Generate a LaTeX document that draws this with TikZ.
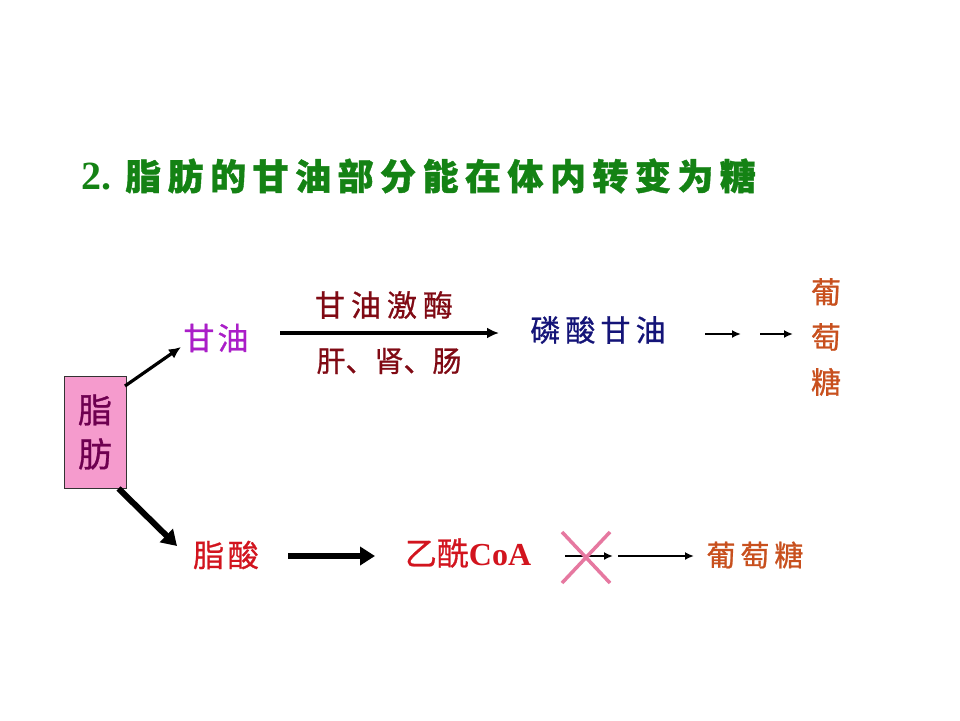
\documentclass[tikz,border=0pt]{standalone}
\usepackage{fontspec}
\setmainfont{Liberation Serif}
\newfontfamily\cjk{Noto Sans CJK SC}[FakeBold=0.8]
\newfontfamily\cjkb{Noto Sans CJK SC}[FakeBold=1.1]
\usetikzlibrary{arrows.meta}
\definecolor{titlegreen}{RGB}{20,130,20}
\definecolor{boxpink}{RGB}{245,155,205}
\definecolor{boxtext}{RGB}{110,0,80}
\definecolor{glycol}{RGB}{170,30,200}
\definecolor{enzred}{RGB}{128,10,20}
\definecolor{navy}{RGB}{20,20,120}
\definecolor{glcorange}{RGB}{200,80,30}
\definecolor{fared}{RGB}{210,20,30}
\definecolor{xpink}{RGB}{230,120,160}
\begin{document}
\begin{tikzpicture}[x=1pt,y=-1pt,
  lbl/.style={inner sep=0pt,anchor=center},
  thin arrow/.style={line width=3.2pt,-{Latex[length=12pt,width=11pt]}},
  thick arrow/.style={line width=6pt,-{Triangle[length=15pt,width=18pt]}},
  small arrow/.style={line width=2.8pt,-{Latex[length=9pt,width=8pt]}}]
\useasboundingbox (0,0) rectangle (960,720);
\fill[white] (0,0) rectangle (960,720);
% title
\node[lbl,anchor=west,text=titlegreen] (title) at (81,176)
  {\fontsize{40}{40}\selectfont\bfseries 2.\hspace{14pt}{\fontsize{36}{36}\selectfont\cjkb\addfontfeature{LetterSpace=18}脂肪的甘油部分能在体内转变为糖}};
% box
\node[draw=black!80,line width=1pt,fill=boxpink,minimum width=62pt,minimum height=112pt,inner sep=0pt,
  text=boxtext,align=center,font={\cjk\fontsize{34}{44}\selectfont}] (fat) at (95,432)
  {脂\\肪};
% glycerol
\node[lbl,text=glycol] (gly) at (216,338) {\fontsize{31}{31}\selectfont\cjk\addfontfeature{LetterSpace=10}甘油};
\coordinate (e1s) at (280,333);
\coordinate (e1e) at (499,333);
\draw[thin arrow] (e1s) -- (e1e);
\node[lbl,text=enzred] (enz) at (384,305) {\fontsize{30}{30}\selectfont\cjk\addfontfeature{LetterSpace=20}甘油激酶};
\node[lbl,text=enzred] (org) at (389,361) {\fontsize{29}{29}\selectfont\cjk 肝、肾、肠};
\node[lbl,text=navy] (gp) at (598,330) {\fontsize{30}{30}\selectfont\cjk\addfontfeature{LetterSpace=17}磷酸甘油};
\coordinate (a1) at (705,334);
\coordinate (a2) at (741,334);
\coordinate (a3) at (760,334);
\coordinate (a4) at (793,334);
\draw[small arrow] (a1) -- (a2);
\draw[small arrow] (a3) -- (a4);
\node[lbl,text=glcorange,align=center,font={\cjk\fontsize{30}{45}\selectfont}] (glc1) at (826,337)
  {葡\\萄\\糖};
% top branch arrow
\coordinate (b1) at (125,386);
\draw[thin arrow] (b1) -- (181,347);
% bottom branch
\draw[thick arrow] ([xshift=-8pt]fat.south east) -- (177,546);
\node[lbl,text=fared] (fa) at (226,555) {\fontsize{31}{31}\selectfont\cjk\addfontfeature{LetterSpace=12}脂酸};
\coordinate (t1) at (288,556);
\coordinate (t2) at (375,556);
\draw[thick arrow] (t1) -- (t2);
\node[lbl,text=fared] (acoa) at (468,553) {\fontsize{32}{32}\selectfont{\cjk 乙酰}\bfseries CoA};
\coordinate (c1) at (565,556);
\coordinate (c2) at (613,556);
\draw[small arrow] (c1) -- (c2);
\draw[xpink,line width=3.5pt] (562,532) -- (610,583) (610,532) -- (562,583);
\coordinate (c3) at (618,556);
\coordinate (c4) at (694,556);
\draw[small arrow] (c3) -- (c4);
\node[lbl,text=glcorange] (glc2) at (755,555) {\fontsize{29}{29}\selectfont\cjk\addfontfeature{LetterSpace=17}葡萄糖};
\end{tikzpicture}
\end{document}
